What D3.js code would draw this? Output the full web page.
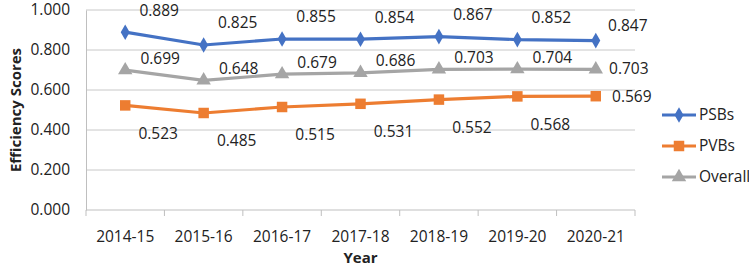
<!DOCTYPE html>
<html lang="en">
<head>
<meta charset="UTF-8">
<title>Efficiency Scores</title>
<script src="https://cdn.jsdelivr.net/npm/d3@7"></script>
<style>
  body { margin: 0; background: #fff; }
  svg text { font-family: 'Open Sans', sans-serif; fill: #222; }
  .axis path, .axis line { stroke: #bfbfbf; }
  .grid line { stroke: #c8c8c8; }
</style>
</head>
<body>
<div id="container"></div>
<script>
// data
var years = ["2014-15", "2015-16", "2016-17", "2017-18", "2018-19", "2019-20", "2020-21"];
var psbs = [0.889, 0.825, 0.855, 0.854, 0.867, 0.852, 0.847];
var pvbs = [0.523, 0.485, 0.515, 0.531, 0.552, 0.568, 0.569];
var overall = [0.699, 0.648, 0.679, 0.686, 0.703, 0.704, 0.703];
var yTicks = [0, 0.2, 0.4, 0.6, 0.8, 1.0];

var width = 749, height = 266;
var plotL = 86, plotR = 635, plotT = 10, plotB = 210;

var svg = d3.select("#container").append("svg")
  .attr("width", width).attr("height", height);

var x = d3.scaleBand().domain(years).range([plotL, plotR]);
var y = d3.scaleLinear().domain([0, 1]).range([plotB, plotT]);

// gridlines
svg.append("g").attr("class", "grid")
  .selectAll("line").data(yTicks.slice(1)).enter().append("line")
  .attr("x1", plotL).attr("x2", plotR)
  .attr("y1", d => y(d)).attr("y2", d => y(d));

// y axis
var yAxis = svg.append("g").attr("class", "axis")
  .attr("transform", "translate(" + plotL + ",0)")
  .call(d3.axisLeft(y).tickValues(yTicks).tickFormat(d3.format(".3f")).tickSize(0).tickPadding(16));
yAxis.selectAll("text").style("font-size", "15.5px").attr("fill", "#222");

// x axis with ticks on band boundaries
var xg = svg.append("g").attr("class", "axis")
  .attr("transform", "translate(0," + plotB + ")");
xg.append("line").attr("x1", plotL).attr("x2", plotR);
xg.selectAll(".tk").data(d3.range(years.length + 1)).enter().append("line")
  .attr("class", "tk")
  .attr("x1", i => plotL + i * x.bandwidth()).attr("x2", i => plotL + i * x.bandwidth())
  .attr("y1", 0).attr("y2", 6);
xg.selectAll("text").data(years).enter().append("text")
  .attr("x", d => x(d) + x.bandwidth() / 2).attr("y", 32)
  .attr("text-anchor", "middle").style("font-size", "15.5px")
  .text(d => d);

// axis titles
svg.append("text").attr("x", plotL + (plotR - plotL) / 2).attr("y", 263)
  .attr("text-anchor", "middle").style("font-size", "15px").style("font-weight", "bold")
  .text("Year");
svg.append("text").attr("transform", "translate(21," + ((plotT + plotB) / 2) + ") rotate(-90)")
  .attr("text-anchor", "middle").style("font-size", "15px").style("font-weight", "bold")
  .text("Efficiency Scores");

var series = [
  { name: "PSBs", values: psbs, color: "#4472C4", symbol: d3.symbolDiamond, size: 70, lab: [34, -22], last: [32, -15] },
  { name: "PVBs", values: pvbs, color: "#ED7D31", symbol: d3.symbolSquare, size: 110, lab: [33, 28], last: [36, 0] },
  { name: "Overall", values: overall, color: "#A5A5A5", symbol: d3.symbolTriangle, size: 90, lab: [35, -12], last: [33, -1] }
];

var line = d3.line()
  .x((d, i) => x(years[i]) + x.bandwidth() / 2)
  .y(d => y(d));

series.forEach(function(s) {
  var g = svg.append("g");
  g.append("path").datum(s.values)
    .attr("d", line).attr("fill", "none")
    .attr("stroke", s.color).attr("stroke-width", 3.2);
  g.selectAll("path.pt").data(s.values).enter().append("path")
    .attr("class", "pt")
    .attr("d", d3.symbol().type(s.symbol).size(s.size))
    .attr("transform", (d, i) => "translate(" + (x(years[i]) + x.bandwidth() / 2) + "," + y(d) + ")")
    .attr("fill", s.color);
  g.selectAll("text").data(s.values).enter().append("text")
    .attr("x", (d, i) => x(years[i]) + x.bandwidth() / 2 + (i === years.length - 1 ? s.last[0] : s.lab[0]))
    .attr("y", (d, i) => y(d) + (i === years.length - 1 ? s.last[1] : s.lab[1]))
    .attr("dy", "0.35em").attr("text-anchor", "middle")
    .style("font-size", "15.5px")
    .text(d => d.toFixed(3));
});

// legend
var legend = svg.append("g").attr("transform", "translate(660,115)");
series.forEach(function(s, i) {
  var row = legend.append("g").attr("transform", "translate(0," + (i * 31) + ")");
  row.append("line").attr("x1", 2).attr("x2", 36)
    .attr("stroke", s.color).attr("stroke-width", 3.2);
  row.append("path").attr("d", d3.symbol().type(s.symbol).size(s.size))
    .attr("transform", "translate(19,0)").attr("fill", s.color);
  row.append("text").attr("x", 39).attr("dy", "0.35em")
    .style("font-size", "15.5px").text(s.name);
});
</script>
</body>
</html>
